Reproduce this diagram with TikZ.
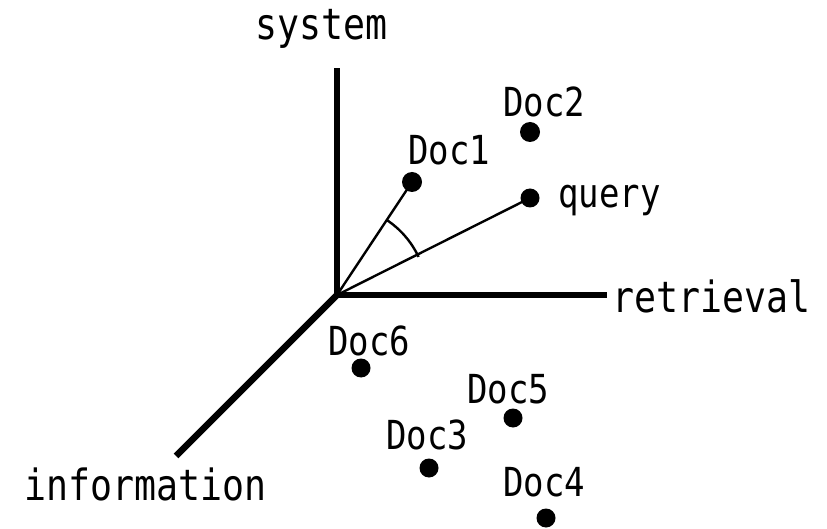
\documentclass[tikz,border=0pt]{standalone}
\usepackage{fontspec}
\newfontfamily\lblfont[FakeStretch=0.85]{DejaVu Sans Mono}
\begin{document}
\begin{tikzpicture}[x=1pt,y=1pt,
  axis/.style={line width=6.5pt},
  vec/.style={line width=2.4pt},
  dot/.style={circle,fill=black,inner sep=0pt,minimum size=20pt},
  doclbl/.style={font=\lblfont\fontsize{40}{40}\selectfont,inner sep=0pt,anchor=base west},
  axlbl/.style={font=\lblfont\fontsize{43}{43}\selectfont,inner sep=0pt,anchor=base west}]
\useasboundingbox (0,0) rectangle (827,528);
% origin and axis ends (y = 528 - pixel row)
\coordinate (O) at (337,233);
\coordinate (S) at (337,460);
\coordinate (R) at (607,233);
\coordinate (I) at (176,72);
\draw[axis] (O) -- (S);
\draw[axis] (O) -- (R);
\draw[axis] (O) -- (I);
% axis labels
\node[axlbl] (ls) at (255,488) {system};
\node[axlbl] (lr) at (612,215) {retrieval};
\node[axlbl] (li) at (24,28) {information};
% documents and query
\node[dot] (d1) at (412,346) {};
\node[dot] (d2) at (530,396) {};
\node[dot,minimum size=19pt] (q) at (530,330) {};
\node[dot,minimum size=19pt] (d6) at (361,160) {};
\node[dot,minimum size=19pt] (d5) at (513,110) {};
\node[dot,minimum size=19pt] (d3) at (429,60) {};
\node[dot,minimum size=19pt] (d4) at (546,10) {};
\node[doclbl] (t1) at (408,363) {Doc1};
\node[doclbl] (t2) at (503,411) {Doc2};
\node[doclbl] (tq) at (558,320) {query};
\node[doclbl] (t6) at (328,173) {Doc6};
\node[doclbl] (t5) at (467,125) {Doc5};
\node[doclbl] (t3) at (386,79) {Doc3};
\node[doclbl] (t4) at (503,32) {Doc4};
% vectors
\draw[vec] (O) -- (d1.center);
\draw[vec] (O) -- (q.center);
% angle arc
\draw[vec] ([shift={(57:90)}]O) arc[start angle=57,end angle=25,radius=90];
\end{tikzpicture}
\end{document}
